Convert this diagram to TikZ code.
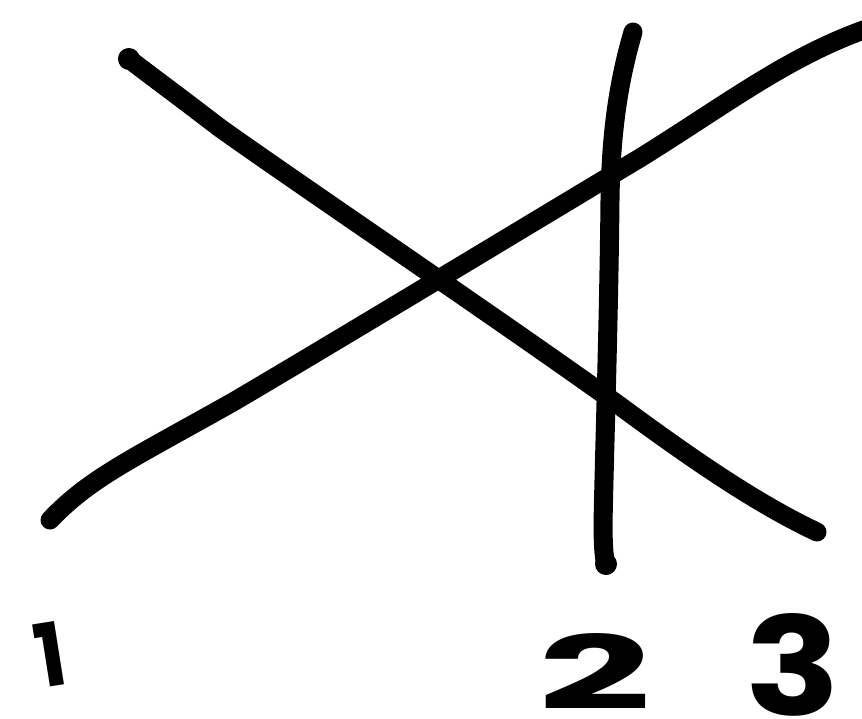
\documentclass[tikz,border=0pt]{standalone}
\usepackage{graphicx}
\usepackage{fontspec}
\newfontfamily\labfont{Poppins}
\begin{document}
\begin{tikzpicture}[x=1pt,y=-1pt,
  stroke/.style={line width=19pt,line cap=round,line join=round,black},
  blob/.style={fill=black},
  digit/.style={inner sep=0pt,font=\labfont\bfseries\fontsize{60}{60}\selectfont}]
\useasboundingbox[fill=white] (0,0) rectangle (862,718);
% line 1
\draw[stroke] (50,520) .. controls (90,478) and (130,460) .. (233,402)
  .. controls (330,345) and (520,230) .. (640,158)
  .. controls (730,102) and (790,55) .. (872,27);
% line 3
\draw[stroke] (128,58) .. controls (140,68) and (160,82) .. (220,128)
  .. controls (300,185) and (500,320) .. (620,406)
  .. controls (700,465) and (760,505) .. (817,532);
\fill[blob] (129,59) circle (11);
% line 2
\draw[stroke] (633,32) .. controls (622,70) and (611,120) .. (610,200)
  .. controls (609,300) and (606,400) .. (604,480)
  .. controls (603,520) and (602,550) .. (606,565);
\fill[blob] (606,564) circle (11);
% labels
\node[digit,rotate=9] (l1) at (50,655) {\resizebox{30pt}{64pt}{1}};
\node[digit] (l2) at (595,671) {\resizebox{113pt}{76pt}{2}};
\node[digit] (l3) at (793,665) {\resizebox{95pt}{102pt}{3}};
\end{tikzpicture}
\end{document}
